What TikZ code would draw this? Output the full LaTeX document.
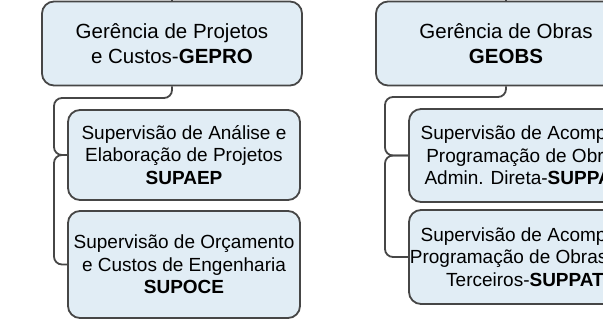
\documentclass[tikz,border=0pt]{standalone}
\usepackage{fontspec}
\setmainfont{Liberation Sans}
\definecolor{boxfill}{HTML}{E1EDF5}
\definecolor{boxline}{HTML}{464646}

\begin{document}
\begin{tikzpicture}[x=1pt,y=1pt,
    box/.style={draw=boxline,line width=1.8pt,fill=boxfill,rounded corners=12pt,
      align=center,inner sep=0pt},
    head/.style={box,minimum width=260pt,minimum height=84pt,
      font=\fontsize{20.5}{25}\selectfont},
    sub/.style={box,minimum width=232pt,font=\fontsize{19}{22.5}\selectfont},
    link/.style={draw=boxline,line width=1.8pt,rounded corners=8pt}]
  \useasboundingbox (0,0) rectangle (603,325);
  \clip (0,0) rectangle (603,325);

  % left branch
  \node[head] (gepro) at (172,281.5) {Gerência de Projetos\\e Custos-\textbf{GEPRO}};
  \node[sub,minimum height=90pt] (supaep) at (184,170)
    {Supervisão de Análise e\\Elaboração de Projetos\\\textbf{SUPAEP}};
  \node[sub,minimum height=107pt] (supoce) at (184,60.5)
    {Supervisão de Orçamento\\e Custos de Engenharia\\\textbf{SUPOCE}};
  \coordinate (gl) at (54,227);
  \draw[link] (gepro.north) -- ++(0,10);
  \draw[link] (gepro.south) |- (gl) |- (supaep.west);
  \draw[link] (supaep.west) -- (gl |- supaep.west) |- (supoce.west);

  % right branch
  \node[head] (geobs) at (506,281.5) {Gerência de Obras\\\textbf{GEOBS}};
  \node[sub,minimum height=93pt] (suppad) at (525,169.5)
    {Supervisão de Acomp. e\\Programação de Obras\\Admin. Direta-\textbf{SUPPAD}};
  \node[sub,minimum height=94pt] (suppat) at (525,68)
    {Supervisão de Acomp. e\\Programação de Obras por\\Terceiros-\textbf{SUPPAT}};
  \coordinate (gr) at (385,228);
  \draw[link] (geobs.north) -- ++(0,10);
  \draw[link] (geobs.south) |- (gr) |- (suppad.west);
  \draw[link] (suppad.west) -- (gr |- suppad.west) |- (suppat.west);
\end{tikzpicture}
\end{document}
